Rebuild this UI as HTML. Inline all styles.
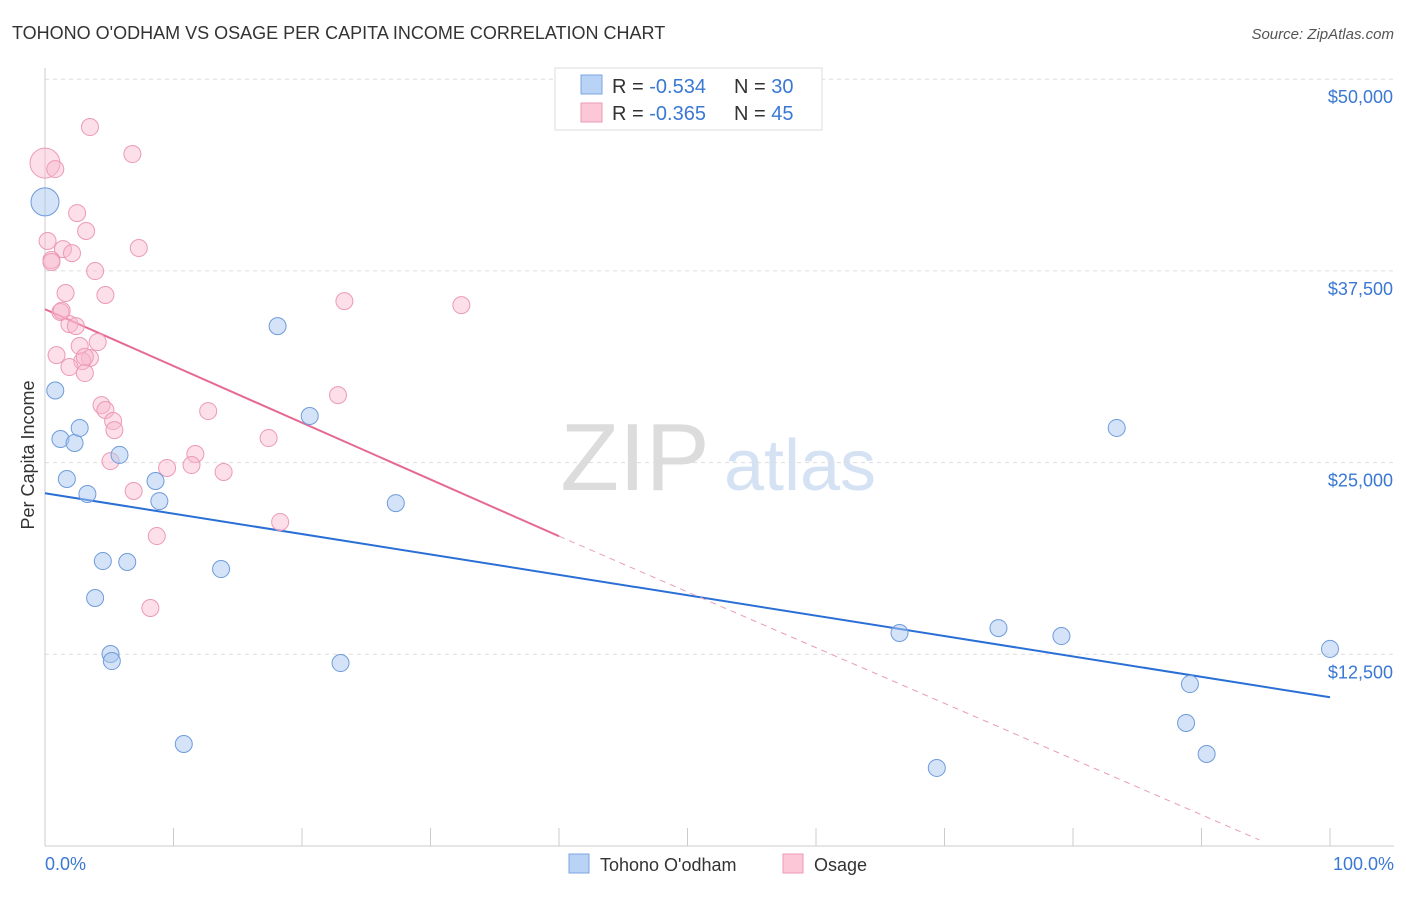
<!DOCTYPE html>
<html><head><meta charset="utf-8"><style>
body{margin:0;background:#fff;font-family:"Liberation Sans",sans-serif;}
svg text{font-family:"Liberation Sans",sans-serif;}
</style></head><body>
<svg id="chart" width="1406" height="892" xmlns="http://www.w3.org/2000/svg">
<text x="12" y="39" font-size="18" fill="#333">TOHONO O'ODHAM VS OSAGE PER CAPITA INCOME CORRELATION CHART</text>
<text x="1394" y="39" font-size="15" fill="#555" text-anchor="end" font-style="italic">Source: ZipAtlas.com</text>
<g>
<text x="635" y="490" font-size="96" fill="#dcdcdc" text-anchor="middle" font-family="Liberation Serif">ZIP</text>
<text x="800" y="490" font-size="72" fill="#d4e2f4" text-anchor="middle">atlas</text>
</g>
<g id="grid"></g>
<g id="axes"></g>
<g id="lines"></g>
<g id="points"></g>
<text transform="translate(34,455) rotate(-90)" font-size="18" fill="#333" text-anchor="middle">Per Capita Income</text>
<text x="45" y="870" font-size="18" fill="#3a78d4">0.0%</text>
<text x="1394" y="870" font-size="18" fill="#3a78d4" text-anchor="end">100.0%</text>
<g>
<rect x="555" y="68" width="267" height="62" fill="#fff" stroke="#ddd"/>
<rect x="581" y="75" width="21" height="19" fill="#b8d3f6" stroke="#7aa6e0"/>
<rect x="581" y="103" width="21" height="19" fill="#fcc8d8" stroke="#ec9ab5"/>
<text x="612" y="93" font-size="20" fill="#333">R = <tspan fill="#3a78d4">-0.534</tspan></text>
<text x="734" y="93" font-size="20" fill="#333">N = <tspan fill="#3a78d4">30</tspan></text>
<text x="612" y="120" font-size="20" fill="#333">R = <tspan fill="#3a78d4">-0.365</tspan></text>
<text x="734" y="120" font-size="20" fill="#333">N = <tspan fill="#3a78d4">45</tspan></text>
</g>
<g>
<rect x="569" y="854" width="20" height="19" fill="#b8d3f6" stroke="#7aa6e0"/>
<text x="600" y="871" font-size="18" fill="#333">Tohono O'odham</text>
<rect x="783" y="854" width="20" height="19" fill="#fcc8d8" stroke="#ec9ab5"/>
<text x="814" y="871" font-size="18" fill="#333">Osage</text>
</g>
</svg>
<script>
const yTicks=[12500,25000,37500,50000];
const yTickLabels=["$12,500","$25,000","$37,500","$50,000"];
const blueX=[0,0.8,1.2,2.3,2.7,1.7,3.3,5.8,4.5,6.4,3.9,5.1,5.2,8.6,8.9,13.7,10.8,18.1,20.6,23.0,27.3,66.5,74.2,79.1,69.4,83.4,100,89.1,88.8,90.4];
const blueY=[42000,29700,26540,26280,27260,23930,22950,25500,18580,18520,16170,12520,12060,23800,22490,18060,6650,33900,28040,11930,22360,13890,14210,13690,5090,27260,12850,10560,8020,6000];
const pinkX=[0,0.8,3.5,6.8,2.5,3.2,0.2,1.4,2.1,7.3,0.5,0.5,3.9,1.6,4.7,23.3,32.4,1.2,1.9,2.4,4.1,2.7,0.9,3.5,2.9,1.9,3.1,22.8,4.4,4.7,12.7,5.3,5.4,17.4,11.7,5.1,9.5,11.4,13.9,6.9,18.3,8.7,8.2,1.3,3.1];
const pinkY=[44530,44140,46880,45120,41270,40100,39450,38920,38660,38990,38210,38080,37490,36060,35930,35530,35270,34820,34030,33900,32860,32600,32010,31820,31620,31230,30840,29400,28750,28430,28360,27710,27120,26600,25560,25100,24650,24840,24390,23150,21130,20210,15520,34900,31900];
const blueTrend=[[0,23000],[100,9700]];
const pinkTrend=[[0,35000],[40,20200],[94.5,400]];
const NS="http://www.w3.org/2000/svg";
const X=v=>45+v*12.85, Y=v=>846-v/12500*191.7;
function mk(t,a,p){const e=document.createElementNS(NS,t);for(const k in a)e.setAttribute(k,a[k]);p.appendChild(e);return e;}
const grid=document.getElementById('grid'),axes=document.getElementById('axes'),lines=document.getElementById('lines'),pts=document.getElementById('points');
yTicks.forEach((t,i)=>{
 const l=mk('line',{x1:45,x2:1394,y1:Y(t),y2:Y(t),stroke:'#ddd','stroke-dasharray':'4,4'},grid);
 
 
 const tx=mk('text',{x:1393,y:Y(t)+24,'font-size':18,fill:'#3a78d4','text-anchor':'end'},axes);
 tx.textContent=yTickLabels[i];
 
 
});
const ax=mk('line',{x1:45,x2:1394,y1:846,y2:846,stroke:'#ccc'},axes);


const ay=mk('line',{x1:45,x2:45,y1:68,y2:846,stroke:'#ccc'},axes);


for(let i=0;i<=10;i++){const t=mk('line',{x1:X(i*10),x2:X(i*10),y1:828,y2:846,stroke:'#ccc'},axes);
 
 }
const bt=mk('line',{x1:X(blueTrend[0][0]),y1:Y(blueTrend[0][1]),x2:X(blueTrend[1][0]),y2:Y(blueTrend[1][1]),stroke:'#2a6fd6','stroke-width':2},lines);


const pt1=mk('line',{x1:X(pinkTrend[0][0]),y1:Y(pinkTrend[0][1]),x2:X(pinkTrend[1][0]),y2:Y(pinkTrend[1][1]),stroke:'#e56a93','stroke-width':2},lines);


const pt2=mk('line',{x1:X(pinkTrend[1][0]),y1:Y(pinkTrend[1][1]),x2:X(pinkTrend[2][0]),y2:Y(pinkTrend[2][1]),stroke:'#e9a0b8','stroke-width':1,'stroke-dasharray':'6,5'},lines);


pinkX.forEach((x,i)=>{const c=mk('circle',{cx:X(x),cy:Y(pinkY[i]),r:i<1?15:8.5,fill:'rgba(248,184,206,0.45)',stroke:'#ec9ab5','stroke-width':1},pts);
 
 });
blueX.forEach((x,i)=>{const c=mk('circle',{cx:X(x),cy:Y(blueY[i]),r:i<1?14:8.5,fill:'rgba(170,200,240,0.5)',stroke:'#6e9cdc','stroke-width':1},pts);
 
 });
</script>
</body></html>
